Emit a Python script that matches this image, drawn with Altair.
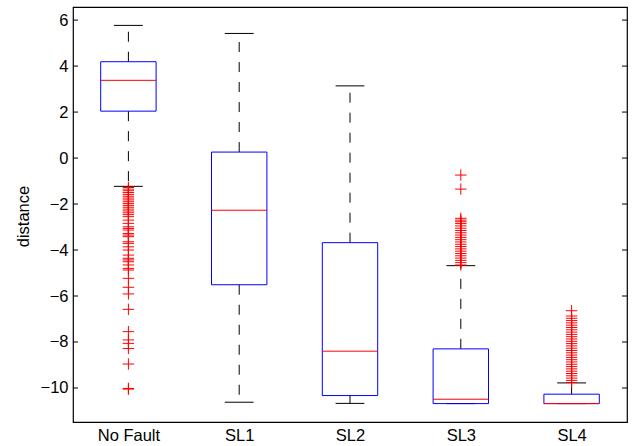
import altair as alt
import pandas as pd

# Box statistics for each condition (whiskers, quartiles, median)
groups = ["No Fault", "SL1", "SL2", "SL3", "SL4"]
positions = [1, 2, 3, 4, 5]
upper_whisker = [5.77, 5.42, 3.14, -4.68, -9.78]
q3 = [4.19, 0.26, -3.68, -8.30, -10.27]
median = [3.38, -2.27, -8.40, -10.49, -10.68]
q1 = [2.04, -5.51, -10.33, -10.68, -10.68]
lower_whisker = [-1.23, -10.62, -10.67, -10.68, -10.68]

# Outliers per condition
out_nofault = [-1.28, -1.35, -1.42, -1.5, -1.58, -1.66, -1.74, -1.82, -1.9, -1.98,
               -2.06, -2.14, -2.22, -2.3, -2.38, -2.46, -2.55, -2.70, -2.84, -2.99,
               -3.06, -3.13, -3.28, -3.35, -3.42, -3.64, -3.71, -3.86, -4.0, -4.22,
               -4.36, -4.43, -4.51, -4.65, -4.80, -4.87, -5.23, -5.62, -5.91, -6.58,
               -7.55, -7.91, -8.06, -8.28, -8.96, -10.02, -10.05]
out_sl1 = []
out_sl2 = []
out_sl3 = [-0.74, -1.35, -2.62, -2.70, -2.77, -2.85, -2.95, -3.05, -3.15, -3.25,
           -3.35, -3.45, -3.55, -3.65, -3.75, -3.85, -3.95, -4.05, -4.15, -4.25,
           -4.35, -4.45, -4.55, -4.65]
out_sl4 = [-6.64, -6.87, -6.97, -7.07, -7.17, -7.27, -7.37, -7.47, -7.57, -7.67,
           -7.77, -7.87, -7.97, -8.07, -8.17, -8.27, -8.37, -8.47, -8.57, -8.67,
           -8.77, -8.87, -8.97, -9.07, -9.17, -9.27, -9.37, -9.47, -9.57, -9.67,
           -9.76]

y_ticks = [-10, -8, -6, -4, -2, 0, 2, 4, 6]

BOX_HALF = 0.25
CAP_HALF = 0.13
W, H = 554, 415

stats = pd.DataFrame({
    "group": groups, "pos": positions, "uw": upper_whisker, "q3": q3,
    "med": median, "q1": q1, "lw": lower_whisker,
})
stats["left"] = stats["pos"] - BOX_HALF
stats["right"] = stats["pos"] + BOX_HALF
stats["cl"] = stats["pos"] - CAP_HALF
stats["cr"] = stats["pos"] + CAP_HALF

outliers = pd.DataFrame(
    [{"pos": p, "value": v}
     for p, vals in zip(positions, [out_nofault, out_sl1, out_sl2, out_sl3, out_sl4])
     for v in vals]
)
ticks = pd.DataFrame({"t": y_ticks})

label_expr = " : ".join(
    f"datum.value == {p} ? '{g}'" for p, g in zip(positions, groups)
) + " : ''"

x_scale = alt.Scale(domain=[0.5, 5.5], nice=False, zero=False)
y_scale = alt.Scale(domain=[-11.48, 6.57], nice=False, zero=False)

x_axis = alt.Axis(values=positions, labelExpr=label_expr, ticks=False, domain=False,
                  grid=False, title=None, labelPadding=5, labelFontSize=16.5,
                  labelFont="Liberation Sans", labelColor="black")
y_axis = alt.Axis(values=y_ticks, ticks=False, domain=False, grid=False,
                  labelExpr="replace(format(datum.value, 'd'), '-', '\u2212')",
                  title="distance", titleFontSize=16.5, titleFont="Liberation Sans",
                  titleFontWeight="normal", titleColor="black", titleAngle=270,
                  titleX=-42, titleY=209, titleAlign="center", titleBaseline="bottom",
                  labelPadding=5, labelFontSize=16.5, labelFont="Liberation Sans",
                  labelColor="black")

base = alt.Chart(stats)

whisk_up = base.mark_rule(color="black", strokeWidth=1, strokeDash=[10, 10]).encode(
    x=alt.X("pos:Q", scale=x_scale, axis=x_axis),
    y=alt.Y("q3:Q", scale=y_scale, axis=y_axis),
    y2="uw:Q",
)
whisk_lo = base.mark_rule(color="black", strokeWidth=1, strokeDash=[10, 10]).encode(
    x="pos:Q", y="q1:Q", y2="lw:Q"
)
cap_up = base.mark_rule(color="black", strokeWidth=1).encode(
    x="cl:Q", x2="cr:Q", y="uw:Q"
)
cap_lo = base.mark_rule(color="black", strokeWidth=1).encode(
    x="cl:Q", x2="cr:Q", y="lw:Q"
)
box = base.mark_rect(stroke="#0000ff", strokeWidth=1, fillOpacity=0, fill="white").encode(
    x="left:Q", x2="right:Q", y="q1:Q", y2="q3:Q"
)
med = base.mark_rule(color="#ff0000", strokeWidth=1).encode(
    x="left:Q", x2="right:Q", y="med:Q"
)
pts = alt.Chart(outliers).mark_point(
    shape="M-1,0H1M0,-1V1", size=130, stroke="#ff0000", strokeWidth=1,
    filled=False, opacity=1
).encode(x="pos:Q", y="value:Q")

tick_l = alt.Chart(ticks).mark_rule(color="black", strokeWidth=1).encode(
    y="t:Q", x=alt.value(0), x2=alt.value(5)
)
tick_r = alt.Chart(ticks).mark_rule(color="black", strokeWidth=1).encode(
    y="t:Q", x=alt.value(W - 5), x2=alt.value(W)
)

chart = alt.layer(whisk_up, whisk_lo, cap_up, cap_lo, box, med, pts, tick_l, tick_r).properties(
    width=W, height=H,
    autosize=alt.AutoSizeParams(type="none"),
    padding={"left": 73, "top": 7, "right": 5, "bottom": 24},
    background="white",
).configure_view(stroke="black", strokeWidth=1.2)

chart.save("out.html", embed_options={"renderer": "svg", "actions": False})
